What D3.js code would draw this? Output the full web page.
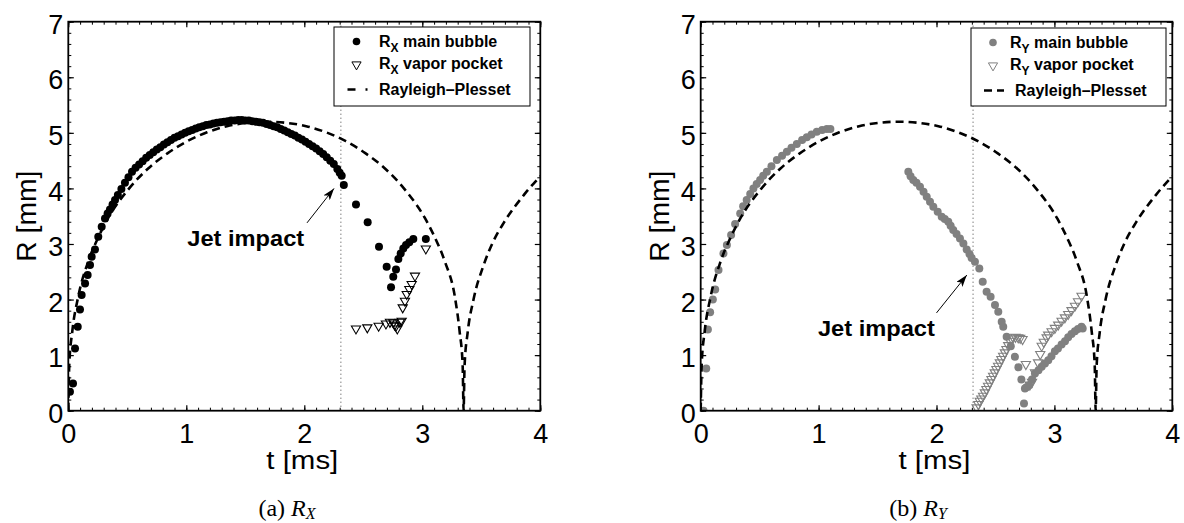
<!DOCTYPE html>
<html lang="en">
<head>
<meta charset="UTF-8">
<title>Bubble radius R_X and R_Y vs Rayleigh-Plesset</title>
<script src="https://d3js.org/d3.v7.min.js"></script>
<style>
  body { margin: 0; background: #fff; }
  svg { display: block; background: #fff; }
  text { font-family: "Liberation Sans", Arial, sans-serif; fill: #000; }
  .bold { font-weight: bold; }
  .caption { font-family: "Liberation Serif", "DejaVu Serif", serif; }
</style>
</head>
<body>
<svg width="1184" height="523"></svg>
<script>
// [t (ms), R (mm)]
const rxMain = [
  [0.014,0.34],[0.040,0.49],[0.057,1.12],[0.080,1.51],[0.099,1.82],[0.113,2.08],[0.142,2.29],
  [0.164,2.44],[0.184,2.62],[0.198,2.77],[0.226,2.90],[0.254,3.13],[0.283,3.31],[0.311,3.46],
  [0.333,3.55],[0.353,3.62],[0.375,3.71],[0.396,3.79],[0.42,3.88],[0.45,3.99],[0.48,4.10],
  [0.51,4.20],[0.54,4.30],[0.57,4.37],[0.60,4.43],[0.63,4.49],[0.66,4.55],[0.69,4.60],
  [0.72,4.65],[0.75,4.70],[0.78,4.74],[0.81,4.79],[0.84,4.83],[0.87,4.87],[0.90,4.91],
  [0.93,4.94],[0.96,4.97],[0.99,5.00],[1.02,5.03],[1.05,5.05],[1.08,5.08],[1.11,5.10],
  [1.14,5.12],[1.17,5.14],[1.20,5.15],[1.23,5.17],[1.26,5.18],[1.29,5.19],[1.32,5.20],
  [1.35,5.21],[1.38,5.22],[1.41,5.22],[1.44,5.23],[1.47,5.23],[1.50,5.22],[1.53,5.22],
  [1.56,5.21],[1.59,5.20],[1.62,5.19],[1.65,5.18],[1.68,5.16],[1.71,5.14],[1.74,5.12],
  [1.77,5.10],[1.80,5.07],[1.83,5.04],[1.86,5.01],[1.89,4.98],[1.92,4.95],[1.95,4.91],
  [1.98,4.88],[2.01,4.84],[2.04,4.80],[2.07,4.76],[2.10,4.72],[2.13,4.67],[2.16,4.62],
  [2.19,4.56],[2.22,4.50],[2.25,4.44],[2.28,4.35],[2.30,4.28],[2.317,4.23],
  [2.335,4.06],[2.438,3.71],[2.537,3.39],[2.633,2.95],[2.698,2.59],[2.735,2.22],[2.754,2.41],
  [2.777,2.54],[2.797,2.73],[2.817,2.83],[2.839,2.92],[2.862,2.98],[2.890,3.03],[2.924,3.09],
  [3.030,3.09]
];
const rxVapor = [
  [2.438,1.46],[2.534,1.48],[2.630,1.51],[2.692,1.55],[2.726,1.58],[2.754,1.57],[2.766,1.53],
  [2.777,1.51],[2.788,1.46],[2.810,1.58],[2.825,1.60],[2.834,1.84],[2.853,1.96],[2.868,2.08],
  [2.890,2.17],[2.910,2.26],[2.938,2.41],[3.030,2.90]
];
const ryMain = [
  [0.024,0.00],[0.047,0.76],[0.061,1.46],[0.080,1.77],[0.103,2.00],[0.123,2.18],[0.151,2.53],
  [0.193,2.83],[0.222,2.98],[0.258,3.16],[0.292,3.36],[0.335,3.55],[0.360,3.68],[0.390,3.79],
  [0.420,3.90],[0.447,4.00],[0.475,4.08],[0.504,4.15],[0.530,4.23],[0.561,4.30],[0.600,4.40],
  [0.646,4.51],[0.690,4.59],[0.731,4.66],[0.770,4.73],[0.815,4.80],[0.860,4.87],[0.900,4.92],
  [0.940,4.97],[0.985,5.02],[1.030,5.05],[1.070,5.07],[1.100,5.07],
  [1.761,4.30],[1.780,4.22],[1.803,4.15],[1.830,4.10],[1.860,4.03],[1.890,3.94],[1.917,3.85],
  [1.945,3.76],[1.973,3.67],[2.010,3.58],[2.044,3.49],[2.070,3.45],[2.100,3.40],[2.120,3.33],
  [2.142,3.25],[2.170,3.18],[2.199,3.10],[2.228,3.01],[2.256,2.90],[2.280,2.82],[2.298,2.75],
  [2.326,2.68],[2.363,2.56],[2.392,2.32],[2.425,2.14],[2.459,2.05],[2.496,1.90],[2.524,1.78],
  [2.553,1.60],[2.566,1.51],[2.595,1.33],[2.630,1.16],[2.665,0.97],[2.695,0.78],[2.720,0.56],
  [2.742,0.13],[2.750,0.40],[2.763,0.42],[2.786,0.46],[2.810,0.56],[2.835,0.67],[2.865,0.73],
  [2.892,0.79],[2.920,0.85],[2.948,0.91],[2.975,0.98],[3.004,1.07],[3.030,1.12],[3.061,1.19],
  [3.090,1.25],[3.117,1.32],[3.145,1.38],[3.174,1.43],[3.200,1.47],[3.230,1.51],[3.240,1.48]
];
const ryVapor = [
  [2.340,0.04],[2.355,0.10],[2.367,0.16],[2.380,0.20],[2.395,0.25],[2.410,0.31],[2.423,0.37],
  [2.437,0.43],[2.452,0.49],[2.466,0.55],[2.480,0.61],[2.494,0.67],[2.508,0.73],[2.522,0.79],
  [2.537,0.85],[2.550,0.91],[2.565,0.97],[2.580,1.03],[2.593,1.09],[2.608,1.16],[2.622,1.24],
  [2.636,1.28],[2.650,1.30],[2.670,1.31],[2.693,1.30],[2.710,1.29],[2.730,1.27],[2.758,0.82],
  [2.792,0.45],[2.810,0.50],[2.835,0.67],[2.861,0.85],[2.880,1.00],[2.892,1.15],[2.910,1.22],
  [2.934,1.30],[2.947,1.35],[2.976,1.41],[3.004,1.47],[3.032,1.53],[3.061,1.60],[3.089,1.66],
  [3.117,1.72],[3.145,1.79],[3.174,1.87],[3.200,1.95],[3.230,2.05]
];
const rayleighPlesset = [
  [0,0],[0.008,0.82],[0.034,1.43],[0.084,2.05],[0.168,2.68],[0.252,3.11],[0.336,3.46],
  [0.504,3.97],[0.672,4.35],[0.840,4.63],[1.008,4.85],[1.176,5.01],[1.344,5.12],[1.512,5.18],
  [1.680,5.20],[1.848,5.18],[2.016,5.12],[2.184,5.01],[2.352,4.85],[2.520,4.63],[2.688,4.35],
  [2.856,3.97],[3.024,3.46],[3.108,3.11],[3.192,2.68],[3.276,2.05],[3.316,1.43],[3.342,0.82],
  [3.350,0],[3.358,0.80],[3.384,1.40],[3.434,2.00],[3.520,2.62],[3.600,3.04],[3.690,3.38],
  [3.860,3.88],[4.000,4.22]
];
const xTicks = [0, 1, 2, 3, 4];
const yTicks = [0, 1, 2, 3, 4, 5, 6, 7];
const jetImpactT = 2.31;

const panels = [
  { id: "a", x0: 68.3, x1: 540.3, main: rxMain, vapor: rxVapor, color: "#000", sub: "X", r: 4,
    legend: { x: 334, y: 27, w: 196, h: 79, mx: 22.5, tx: [45, 45, 45] },
    note: { t: 1.008, r: 2.96, from: [2.023, 3.38], to: [2.252, 4.0] }, capX: 287 },
  { id: "b", x0: 700.7, x1: 1172.3, main: ryMain, vapor: ryVapor, color: "#808080", sub: "Y", r: 4,
    legend: { x: 971, y: 28, w: 195, h: 78, mx: 22, tx: [39, 39, 44] },
    note: { t: 0.994, r: 1.34, from: [2.0, 1.76], to: [2.257, 2.44] }, capX: 918 }
];

const svg = d3.select("svg");
const defs = svg.append("defs");
defs.append("marker").attr("id", "arrowhead")
  .attr("viewBox", "0 0 12 8").attr("refX", 12).attr("refY", 4)
  .attr("markerWidth", 12).attr("markerHeight", 8)
  .attr("markerUnits", "userSpaceOnUse").attr("orient", "auto")
  .append("path").attr("d", "M0,0L12,4L0,8L3,4Z").attr("fill", "#000");

const triangle = "M-4.6,-3.6L4.6,-3.6L0,4.4Z";

function drawPanel(p) {
  const x = d3.scaleLinear().domain([0, 4]).range([p.x0, p.x1]);
  const y = d3.scaleLinear().domain([0, 7]).range([410.7, 21.7]);
  const g = svg.append("g");

  defs.append("clipPath").attr("id", "clip-" + p.id)
    .append("rect").attr("x", x(0)).attr("y", y(7))
    .attr("width", x(4) - x(0)).attr("height", y(0) - y(7));

  // ticks (inside, all four sides)
  const axes = [
    [d3.axisBottom, y(0), true], [d3.axisTop, y(7), true],
    [d3.axisLeft, x(0), false], [d3.axisRight, x(4), false]
  ];
  axes.forEach(([ax, pos, horiz]) => {
    const sc = horiz ? x : y;
    const minor = horiz ? x.ticks(40) : y.ticks(35);
    const tr = horiz ? `translate(0,${pos})` : `translate(${pos},0)`;
    g.append("g").attr("transform", tr)
      .call(ax(sc).tickValues(minor).tickSize(-3).tickSizeOuter(0).tickFormat(""))
      .call(s => s.select(".domain").remove())
      .selectAll("line").attr("stroke-width", 1);
    g.append("g").attr("transform", tr)
      .call(ax(sc).tickValues(horiz ? xTicks : yTicks).tickSize(-5.5).tickSizeOuter(0).tickFormat(""))
      .call(s => s.select(".domain").remove())
      .selectAll("line").attr("stroke-width", 1.2);
  });

  // tick labels
  g.append("g").attr("transform", `translate(0,${y(0)})`)
    .call(d3.axisBottom(x).tickValues(xTicks).tickSize(0).tickPadding(13).tickFormat(d3.format("d")))
    .attr("font-size", 27)
    .call(s => s.select(".domain").remove());
  g.append("g").attr("transform", `translate(${x(0)},0)`)
    .call(d3.axisLeft(y).tickValues(yTicks).tickSize(0).tickPadding(5).tickFormat(d3.format("d")))
    .attr("font-size", 27)
    .call(s => s.select(".domain").remove())
    .selectAll("text").attr("dy", "0.43em");

  // axis titles
  g.append("text").attr("x", (x(0) + x(4)) / 2 - 2).attr("y", 469)
    .attr("text-anchor", "middle").attr("font-size", 25)
    .attr("textLength", 72).attr("lengthAdjust", "spacingAndGlyphs").text("t [ms]");
  g.append("text")
    .attr("transform", `translate(${x(0) - 32},${(y(0) + y(7)) / 2}) rotate(-90)`)
    .attr("text-anchor", "middle").attr("font-size", 27)
    .attr("textLength", 91).attr("lengthAdjust", "spacingAndGlyphs").text("R [mm]");

  // jet impact instant
  g.append("line")
    .attr("x1", x(jetImpactT)).attr("x2", x(jetImpactT))
    .attr("y1", y(0)).attr("y2", y(7))
    .attr("stroke", "#444").attr("stroke-width", 1).attr("stroke-dasharray", "1,3");

  const plot = g.append("g").attr("clip-path", `url(#clip-${p.id})`);

  plot.append("g").selectAll("circle").data(p.main).join("circle")
    .attr("cx", d => x(d[0])).attr("cy", d => y(d[1]))
    .attr("r", p.r).attr("fill", p.color);

  plot.append("g").selectAll("path").data(p.vapor).join("path")
    .attr("d", triangle)
    .attr("transform", d => `translate(${x(d[0])},${y(d[1])})`)
    .attr("fill", "none").attr("stroke", p.color).attr("stroke-width", 1.1);

  plot.append("path").datum(rayleighPlesset)
    .attr("d", d3.line().x(d => x(d[0])).y(d => y(d[1])).curve(d3.curveMonotoneX))
    .attr("fill", "none").attr("stroke", "#000").attr("stroke-width", 2.6)
    .attr("stroke-dasharray", "8,5");

  // frame
  g.append("rect").attr("x", x(0)).attr("y", y(7))
    .attr("width", x(4) - x(0)).attr("height", y(0) - y(7))
    .attr("fill", "none").attr("stroke", "#000").attr("stroke-width", 1.8);

  // annotation
  g.append("text").attr("class", "bold").attr("x", x(p.note.t)).attr("y", y(p.note.r))
    .attr("font-size", 22).attr("textLength", 117).attr("lengthAdjust", "spacingAndGlyphs")
    .text("Jet impact");
  g.append("line")
    .attr("x1", x(p.note.from[0])).attr("y1", y(p.note.from[1]))
    .attr("x2", x(p.note.to[0])).attr("y2", y(p.note.to[1]))
    .attr("stroke", "#000").attr("stroke-width", 1).attr("marker-end", "url(#arrowhead)");

  // legend
  const L = p.legend;
  const lg = g.append("g").attr("transform", `translate(${L.x},${L.y})`);
  lg.append("rect").attr("width", L.w).attr("height", L.h)
    .attr("fill", "#fff").attr("stroke", "#000").attr("stroke-width", 1);
  lg.append("circle").attr("cx", L.mx).attr("cy", 14.5).attr("r", 3.8).attr("fill", p.color);
  lg.append("path").attr("d", triangle).attr("transform", `translate(${L.mx},38.5)`)
    .attr("fill", "none").attr("stroke", p.color).attr("stroke-width", 1);
  lg.append("line").attr("x1", L.mx - 9).attr("x2", L.mx + 11)
    .attr("y1", 62.5).attr("y2", 62.5)
    .attr("stroke", "#000").attr("stroke-width", 2.6)
    .attr("stroke-dasharray", p.id === "a" ? "8,10" : "8,5");
  const labels = [" main bubble", " vapor pocket"];
  labels.forEach((lab, i) => {
    const t = lg.append("text").attr("class", "bold").attr("x", L.tx[i])
      .attr("y", i === 0 ? 19.5 : 41.5).attr("font-size", 16);
    t.append("tspan").text("R");
    t.append("tspan").attr("font-size", 12).attr("dy", 5).text(p.sub);
    t.append("tspan").attr("dy", -5).text(lab);
  });
  lg.append("text").attr("class", "bold").attr("x", L.tx[2]).attr("y", 68)
    .attr("font-size", 16).text("Rayleigh\u2013Plesset");

  // caption
  const cap = g.append("text").attr("class", "caption").attr("x", p.capX).attr("y", 516)
    .attr("text-anchor", "middle").attr("font-size", 24);
  cap.append("tspan").text(`(${p.id}) `);
  cap.append("tspan").attr("font-style", "italic").text("R");
  cap.append("tspan").attr("font-style", "italic").attr("font-size", 16).attr("dy", 3).text(p.sub);
}

panels.forEach(drawPanel);
</script>
</body>
</html>
